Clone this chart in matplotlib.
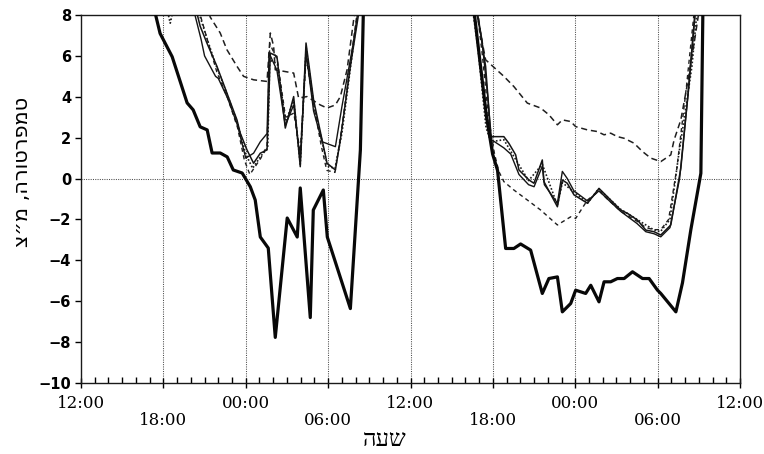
import matplotlib
matplotlib.use("Agg")
import matplotlib.pyplot as plt
from matplotlib.ticker import FixedLocator, MultipleLocator

# ---------------- data (hours since 12:00 of day 1, temperature in C) ----------------
# values above the top of the axis (8) are clipped by the axes
t_thick = [0, 5.40, 5.76, 6.64, 7.73, 8.17, 8.68, 9.19, 9.55, 10.14, 10.65, 11.09, 11.74,
           12.33, 12.69, 13.06, 13.64, 14.15, 15.02, 15.75, 15.97, 16.70, 16.92, 17.65,
           17.94, 19.62, 20.35, 20.57, 24.5,
           28.59, 29.10, 29.54, 29.98, 30.34, 30.93, 31.53, 32.02, 32.75, 33.60, 34.08,
           34.70, 35.06, 35.67, 36.03, 36.76, 37.13, 37.73, 38.10, 38.58, 39.07, 39.56,
           40.17, 40.90, 41.38, 41.99, 42.23, 43.33, 43.81, 44.42, 45.15, 45.30, 48]
v_thick = [14, 8.1, 7.1, 5.96, 3.7, 3.36, 2.53, 2.38, 1.25, 1.25, 1.06, 0.42, 0.27,
           -0.4, -1.05, -2.86, -3.4, -7.77, -1.93, -2.86, -0.46, -6.8, -1.54, -0.56,
           -2.86, -6.36, 1.4, 8.3, 14,
           8.4, 5.5, 3.0, 1.2, 0.4, -3.42, -3.42, -3.2, -3.5, -5.62, -4.89,
           -4.81, -6.52, -6.11, -5.46, -5.62, -5.22, -6.03, -5.05, -5.05, -4.89, -4.89,
           -4.56, -4.89, -4.89, -5.46, -5.62, -6.52, -5.1, -2.5, 0.26, 8.4, 14]

t_thin1 = [0, 8.44, 8.68, 9.17, 9.90, 10.63, 11.36, 11.60, 12.09, 12.57, 13.06, 13.55,
           13.79, 14.27, 14.88, 15.49, 15.97, 16.39, 16.94, 17.56, 17.92, 18.53, 18.89,
           19.62, 20.23, 24.5,
           28.74, 29.10, 29.47, 29.71, 29.83, 30.80, 31.16, 31.66, 31.90, 32.63, 32.99,
           33.60, 33.72, 34.70, 35.06, 35.42, 35.91, 36.89, 37.73, 38.34, 39.31, 39.80,
           40.53, 41.14, 41.74, 42.23, 42.96, 43.69, 44.27, 44.78, 48]
v_thin1 = [14, 8.1, 7.45, 6.63, 5.49, 4.18, 2.87, 2.22, 1.4, 0.75, 1.24, 1.4,
           6.14, 5.98, 2.47, 4.01, 0.58, 6.63, 3.85, 1.89, 0.75, 0.42, 1.89,
           5.49, 8.1, 14,
           8.4, 7.12, 5.49, 3.36, 2.05, 2.05, 1.73, 1.16, 0.42, -0.07, -0.23,
           0.91, -0.15, -1.38, -0.07, -0.23, -0.8, -1.21, -0.48, -0.89, -1.54, -1.7,
           -2.03, -2.52, -2.6, -2.76, -2.27, 0.5, 4.5, 8.4, 14]

t_thin2 = [0, 8.3, 8.75, 9.0, 9.8, 10.0, 10.7, 11.4, 12.0, 12.57, 13.06, 13.55, 13.7,
           14.27, 14.88, 15.49, 15.97, 16.39, 16.94, 17.56, 18.53, 19.0, 19.8, 20.2, 24.5,
           28.8, 29.2, 29.6, 29.9, 30.8, 31.3, 31.9, 32.6, 33.0, 33.6, 33.75, 34.7,
           35.06, 35.42, 35.9, 36.9, 37.73, 38.34, 39.3, 40.5, 41.14, 41.74, 42.23,
           42.9, 43.6, 44.2, 44.75, 48]
v_thin2 = [14, 8.0, 6.8, 6.0, 5.0, 4.9, 3.9, 2.6, 1.0, 1.24, 1.8, 2.2, 6.14,
           5.3, 2.6, 3.6, 0.9, 6.2, 3.3, 1.8, 1.56, 3.5, 6.5, 8.3, 14,
           8.4, 6.8, 4.2, 1.9, 1.5, 1.2, 0.2, -0.3, -0.4, 0.6, -0.3, -1.2,
           0.35, 0.0, -0.6, -1.1, -0.6, -1.0, -1.6, -2.2, -2.6, -2.7, -2.85,
           -2.4, 0.0, 4.0, 8.4, 14]

t_dash_hi = [0, 9.26, 9.41, 10.14, 10.63, 11.36, 11.84, 12.57, 13.55, 13.79, 14.03, 14.15,
             15.49, 15.85, 16.46, 17.43, 17.92, 18.53, 18.89, 19.38, 19.86, 20.06, 24.5,
             28.81, 29.10, 29.47, 30.80, 31.53, 32.51, 33.48, 34.08, 34.70, 35.06, 35.67,
             36.03, 36.89, 37.61, 38.10, 38.58, 39.07, 39.56, 40.28, 40.90, 41.50, 42.23,
             42.96, 43.20, 43.69, 44.18, 44.66, 45.03, 48]
v_dash_hi = [14, 8.3, 7.9, 7.12, 6.3, 5.49, 5.0, 4.83, 4.75, 7.12, 6.47, 5.32,
             5.16, 3.94, 4.01, 3.6, 3.45, 3.6, 4.01, 5.32, 7.77, 8.5, 14,
             8.6, 7.1, 5.81, 5.0, 4.5, 3.69, 3.45, 3.12, 2.63, 2.87, 2.79,
             2.54, 2.38, 2.3, 2.14, 2.22, 2.05, 1.97, 1.73, 1.32, 1.0, 0.83,
             1.16, 1.89, 2.87, 4.67, 6.63, 8.26, 14]

t_dash_lo = [0, 8.6, 9.2, 9.9, 10.7, 11.4, 11.9, 12.3, 12.6, 13.1, 13.55, 13.75, 14.3,
             14.9, 15.5, 15.97, 16.4, 16.95, 17.5, 17.9, 18.5, 19.0, 19.7, 20.15, 24.5,
             28.81, 29.24, 29.68, 30.12, 30.44, 30.80, 31.53, 32.51, 33.48, 34.70, 35.67,
             36.03, 36.89, 37.73, 38.34, 39.31, 40.53, 41.14, 41.74, 42.23, 42.8, 43.4,
             44.1, 44.7, 48]
v_dash_lo = [14, 8.2, 6.8, 5.2, 3.9, 2.5, 0.9, 0.2, 0.5, 1.0, 1.6, 6.6, 5.8,
             3.0, 3.2, 1.3, 5.9, 3.6, 1.6, 0.4, 0.3, 2.5, 6.0, 8.3, 14,
             8.4, 6.0, 3.0, 1.2, 0.34, -0.15, -0.56, -1.05, -1.54, -2.27, -1.87,
             -1.95, -1.05, -0.6, -1.0, -1.6, -2.1, -2.4, -2.5, -2.5, -2.0, 0.5,
             4.5, 8.4, 14]

t_dot = [0, 6.2, 6.5, 6.8, 8.5, 9.1, 9.8, 10.6, 11.4, 12.0, 12.5, 13.1, 13.6, 13.75,
         14.3, 14.9, 15.5, 15.97, 16.4, 16.95, 17.6, 17.95, 18.5, 19.0, 19.7, 20.2, 24.5,
         28.5, 28.9, 29.5, 29.85, 30.8, 31.6, 32.6, 33.6, 34.7, 35.06, 36.9, 37.7, 39.3,
         40.5, 41.7, 42.2, 42.9, 43.5, 44.0, 44.5, 44.9, 48]
v_dot = [14, 8.5, 7.6, 8.5, 8.3, 7.0, 5.6, 4.2, 2.7, 1.2, 0.5, 1.1, 1.5, 5.8,
         5.6, 2.8, 3.8, 0.7, 6.4, 3.6, 1.7, 0.6, 0.5, 2.2, 5.8, 8.4, 14,
         8.4, 6.45, 2.5, 1.8, 1.9, 1.0, -0.1, 0.7, -1.3, -0.2, -1.2, -0.5, -1.5,
         -2.0, -2.5, -2.6, -2.0, 1.0, 3.2, 5.5, 8.4, 14]

major_ticks = [0, 6, 12, 18, 24, 30, 36, 42, 48]
major_labels = ["12:00", "\n18:00", "00:00", "\n06:00", "12:00",
                "\n18:00", "00:00", "\n06:00", "12:00"]
y_ticks = [-10, -8, -6, -4, -2, 0, 2, 4, 6, 8]
y_label = "טמפרטורה, מ״צ"
x_label = "שעה"

# ---------------- figure ----------------
W, H = 764, 454
fig = plt.figure(figsize=(W / 100, H / 100), dpi=100)
ax = fig.add_axes([81 / W, 1 - 383 / H, (740 - 81) / W, (383 - 15) / H])
ax.set_xlim(0, 48)
ax.set_ylim(-10, 8)

grid_kw = dict(color="0.3", lw=0.75, ls=(0, (1, 1.2)), zorder=1)
for t in major_ticks[1:-1]:
    ax.axvline(t, **grid_kw)
ax.axhline(0, **grid_kw)

ax.plot(t_dash_hi, v_dash_hi, color="0.12", lw=1.1, ls=(0, (4, 2.5)), zorder=3)
ax.plot(t_dash_lo, v_dash_lo, color="0.12", lw=1.0, ls=(0, (3, 2.5)), zorder=3)
ax.plot(t_dot, v_dot, color="0.12", lw=1.2, ls=(0, (1, 1.2)), zorder=3)
ax.plot(t_thin2, v_thin2, color="0.08", lw=1.0, zorder=4)
ax.plot(t_thin1, v_thin1, color="0.08", lw=1.1, zorder=4)
ax.plot(t_thick, v_thick, color="0.03", lw=2.3, zorder=5)

for s in ax.spines.values():
    s.set_linewidth(1.0)
    s.set_color("0.1")

ax.xaxis.set_major_locator(FixedLocator(major_ticks))
ax.xaxis.set_minor_locator(MultipleLocator(1))
ax.set_xticklabels(major_labels, family="DejaVu Serif", fontsize=12, linespacing=1.0)
ax.tick_params(axis="x", which="major", direction="inout", length=7, width=1.0, pad=5)
ax.tick_params(axis="x", which="minor", direction="in", length=4, width=1.0)

ax.set_yticks(y_ticks)
ax.set_yticklabels([f"{v}".replace("-", "\u2212") for v in y_ticks],
                   family="DejaVu Sans", fontweight="bold", fontsize=10.5)
ax.tick_params(axis="y", direction="out", length=4, width=1.0, pad=3)

# Hebrew labels (visual order, since matplotlib does not reorder right-to-left text)
fig.text(22 / W, 1 - 172 / H, y_label[::-1], rotation=90, ha="center", va="center",
         fontsize=15, family=["DejaVu Sans"])
fig.text(385 / W, 1 - 441 / H, x_label[::-1], ha="center", va="center",
         fontsize=17, family=["Liberation Serif", "DejaVu Sans"])

fig.savefig("out.png", dpi=100, facecolor="white")
